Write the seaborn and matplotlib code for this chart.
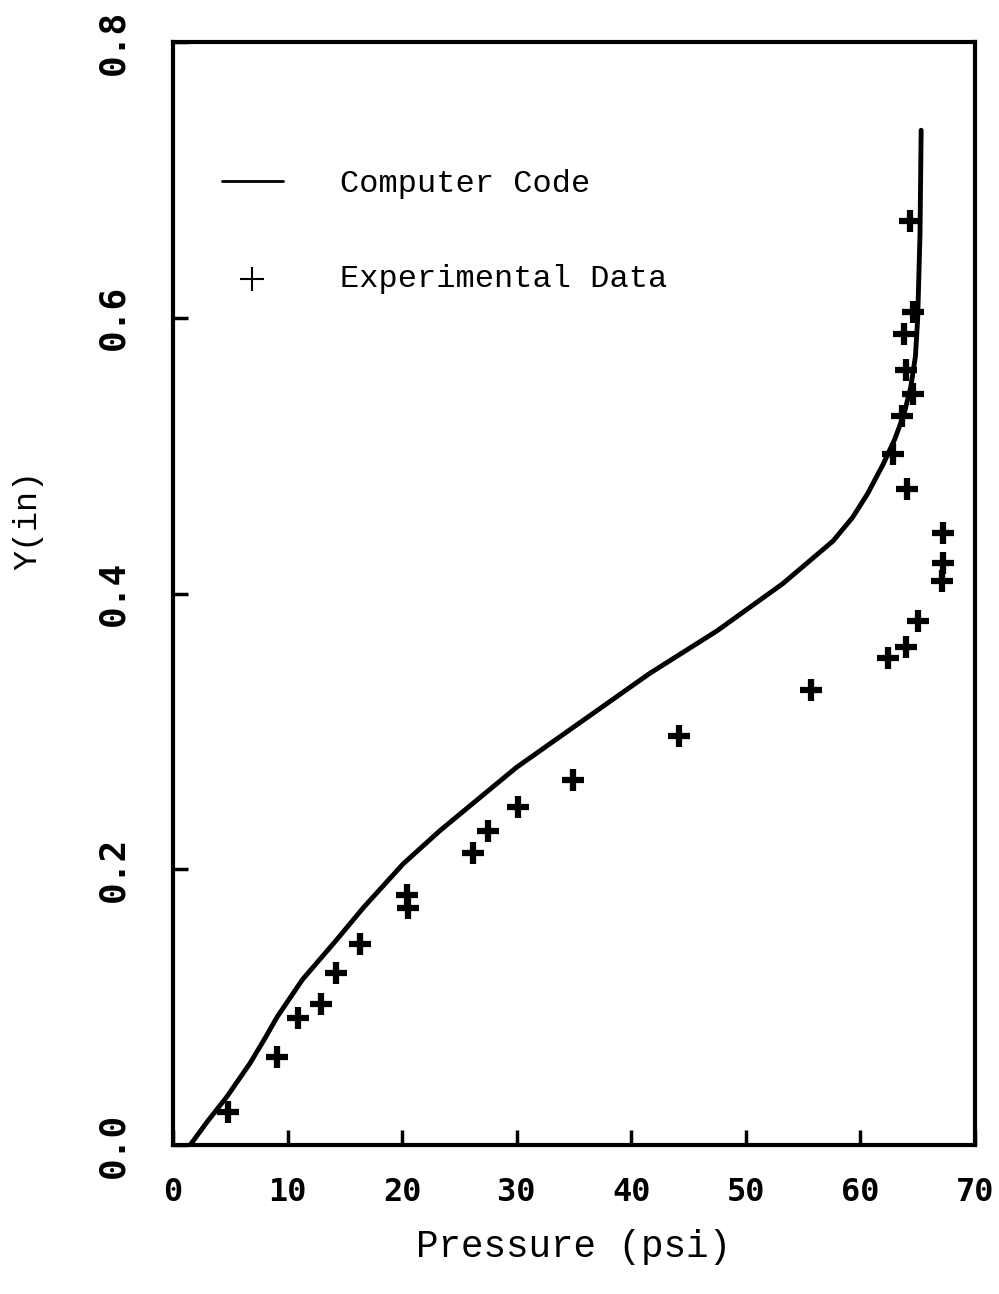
import numpy as np
import pandas as pd
import matplotlib
matplotlib.use("Agg")
import matplotlib.pyplot as plt
import seaborn as sns

# Computer code curve (pressure psi, y inches)
code_p = [1.5, 3.0, 4.7, 6.7, 8.0, 9.1, 11.3, 14.3, 16.6, 20.1, 23.3, 26.5, 30.0, 35.8,
          41.6, 47.5, 53.2, 57.6, 59.3, 60.6, 62.0, 63.0, 63.8, 64.4, 64.8, 65.0, 65.2, 65.3]
code_y = [0.0, 0.017, 0.035, 0.059, 0.077, 0.093, 0.120, 0.149, 0.172, 0.204, 0.228, 0.250, 0.274, 0.308,
          0.342, 0.373, 0.407, 0.438, 0.455, 0.472, 0.494, 0.512, 0.530, 0.550, 0.572, 0.600, 0.661, 0.736]

# Experimental data
exp_p = [4.8, 9.1, 10.9, 12.9, 14.2, 16.3, 20.4, 20.5, 26.2, 27.5, 30.1, 34.9, 44.2,
         55.7, 62.4, 64.0, 65.0, 67.1, 67.2, 67.2, 64.1, 62.8, 63.6, 64.6, 64.0, 63.8, 64.6, 64.3]
exp_y = [0.024, 0.064, 0.092, 0.102, 0.125, 0.146, 0.181, 0.172, 0.212, 0.228, 0.245, 0.265, 0.297,
         0.330, 0.353, 0.361, 0.380, 0.409, 0.422, 0.444, 0.476, 0.501, 0.529, 0.545, 0.562, 0.588, 0.604, 0.670]

x_ticks = [0, 10, 20, 30, 40, 50, 60, 70]
y_ticks = [0.0, 0.2, 0.4, 0.6, 0.8]
x_tick_labels = ["0", "10", "20", "30", "40", "50", "60", "70"]
y_tick_labels = ["0.0", "0.2", "0.4", "0.6", "0.8"]

sns.set_theme(style="white")
plt.rcParams['font.family'] = ['Liberation Mono', 'DejaVu Sans Mono']
plt.rcParams['text.color'] = 'black'

fig = plt.figure(figsize=(9.99, 12.94), dpi=100)
ax = fig.add_axes([173/999, 1 - 1145/1294, (975-173)/999, (1145-42)/1294])

code_df = pd.DataFrame({"p": code_p, "y": code_y})
exp_df = pd.DataFrame({"p": exp_p, "y": exp_y})

sns.lineplot(data=code_df, x="p", y="y", sort=False, estimator=None, ax=ax,
             color="black", lw=3.5, label="Computer Code")
sns.scatterplot(data=exp_df, x="p", y="y", ax=ax, marker="+", s=250,
                color="black", linewidth=4.5, label="Experimental Data")

ax.set_xlim(0, 70)
ax.set_ylim(0, 0.8)
ax.set_xticks(x_ticks)
ax.set_xticklabels(x_tick_labels, family="DejaVu Sans Mono", fontweight="bold", fontsize=23)
ax.set_yticks(y_ticks)
ax.set_yticklabels(y_tick_labels, family="DejaVu Sans Mono", fontweight="bold", fontsize=26,
                   rotation=90, va="center", ha="center")
ax.tick_params(axis="x", bottom=True, direction="in", length=11, width=2.5, pad=23,
               color="black", labelcolor="black")
ax.tick_params(axis="y", left=True, direction="in", length=11, width=2.5, pad=43,
               color="black", labelcolor="black")

for s in ax.spines.values():
    s.set_visible(True)
    s.set_color("black")
    s.set_linewidth(3)

ax.set_xlabel("Pressure (psi)", fontsize=27, color="black")
ax.set_ylabel("Y(in)", fontsize=24, color="black")
ax.xaxis.set_label_coords(0.5, -(1247-1145)/1103)
ax.xaxis.label.set_va("center")
ax.yaxis.set_label_coords((28-173)/802, (1145-520)/1103)
ax.yaxis.label.set_va("center")

leg = ax.legend(loc="upper left", bbox_to_anchor=(0.061, 0.885), frameon=False,
                fontsize=23, handlelength=1.9, handletextpad=1.8, labelspacing=2.05,
                borderaxespad=0, borderpad=0)
for t in leg.get_texts():
    t.set_color("black")
handles = leg.legend_handles
handles[0].set_linewidth(2)
handles[1].set_linewidth(1.5)
handles[1].set_sizes([300])

fig.savefig("out.png", dpi=100, facecolor="white")
